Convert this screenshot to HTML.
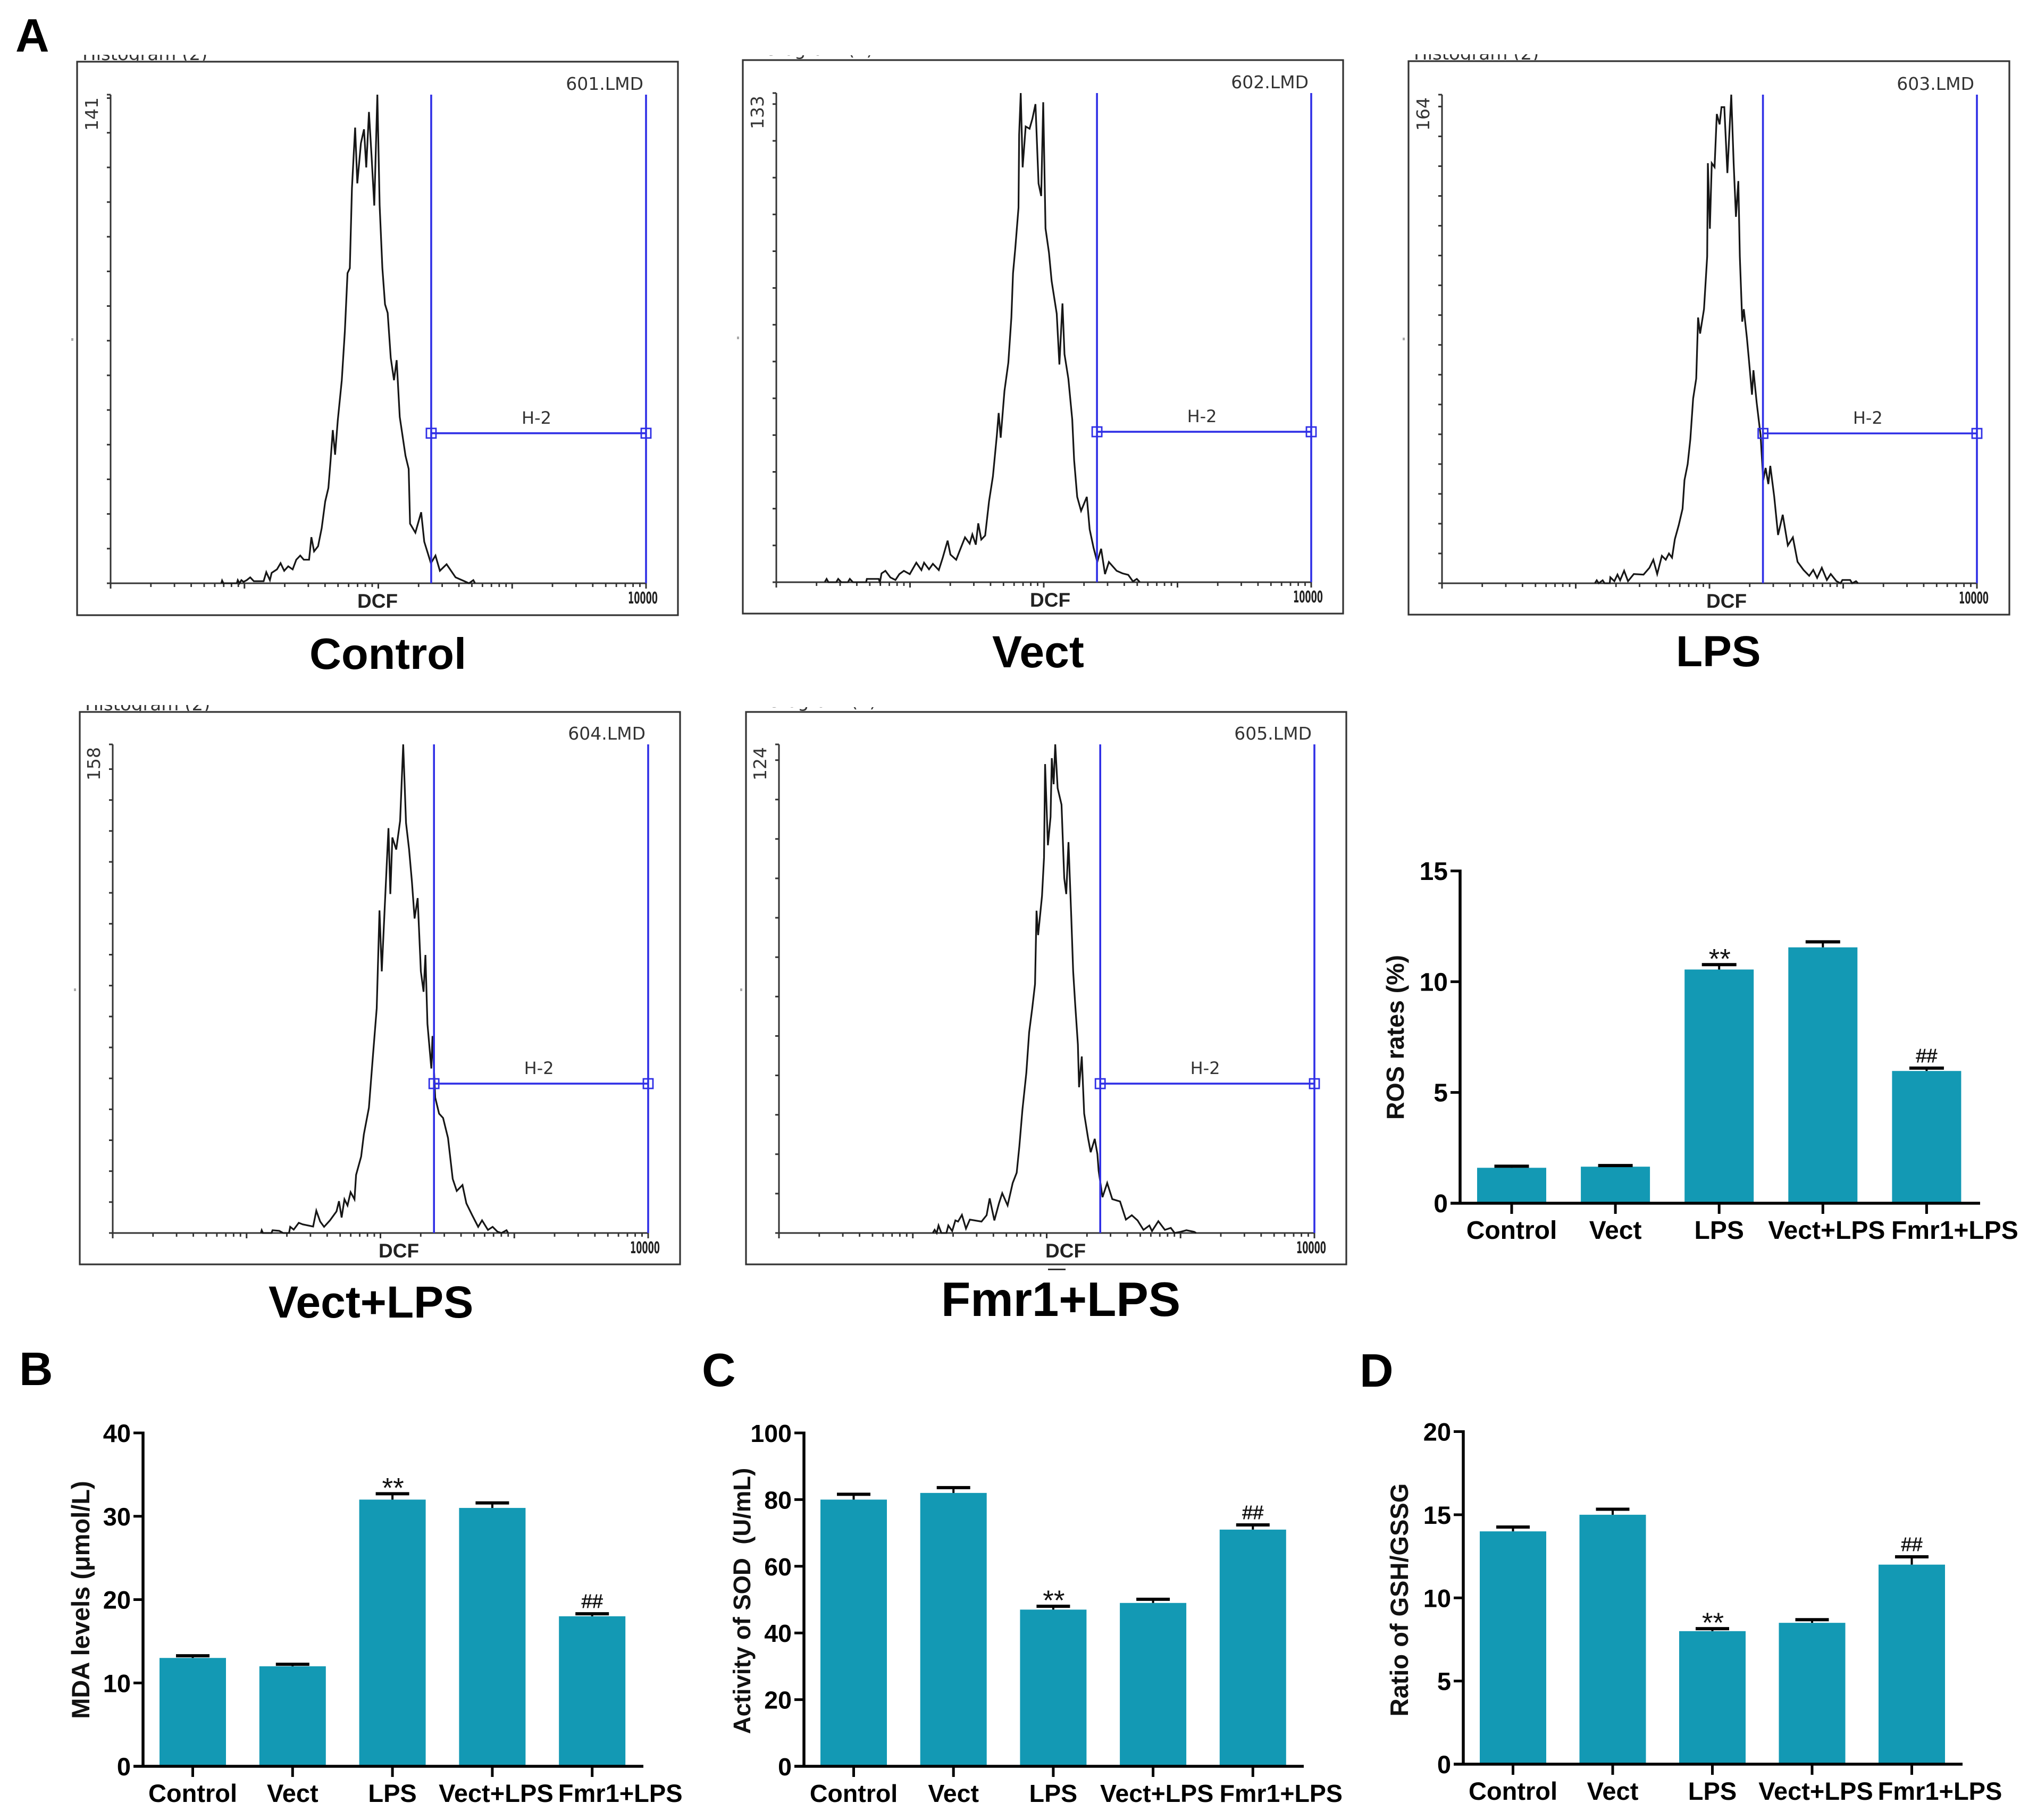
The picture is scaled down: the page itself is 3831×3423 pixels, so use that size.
<!DOCTYPE html>
<html lang="en">
<head>
<meta charset="utf-8">
<title>ROS, MDA, SOD and GSH/GSSG measurements</title>
<style>
html,body{margin:0;padding:0;background:#fff;width:3831px;height:3423px;overflow:hidden}
svg{display:block}
.sans{font-family:"Liberation Sans",Arial,sans-serif}
.letter{font-family:"Liberation Sans",Arial,sans-serif;font-weight:bold;font-size:88px;fill:#000}
.caption{font-family:"Liberation Sans",Arial,sans-serif;font-weight:bold;font-size:82px;fill:#000}
</style>
</head>
<body>
<svg id="figure" xmlns="http://www.w3.org/2000/svg" width="3831" height="3423" viewBox="0 0 3831 3423">
<rect x="0" y="0" width="3831" height="3423" fill="#fff"/>
<text class="letter" x="29" y="97">A</text>
<text class="letter" x="36" y="2605">B</text>
<text class="letter" x="1320" y="2607">C</text>
<text class="letter" x="2557" y="2608">D</text>
<text class="caption" x="582" y="1258" style="font-size:83px">Control</text>
<text class="caption" x="1866" y="1255" style="font-size:84px">Vect</text>
<text class="caption" x="3152" y="1253">LPS</text>
<text class="caption" x="505" y="2478" style="font-size:84px">Vect+LPS</text>
<text class="caption" x="1770" y="2475" style="font-size:90.5px">Fmr1+LPS</text>
<rect x="1971" y="2386" width="33" height="3" fill="#333"/>
</svg>
<script>
/* ---------- bar chart data ---------- */
const categories = ['Control', 'Vect', 'LPS', 'Vect+LPS', 'Fmr1+LPS'];
const significance = ['', '', '**', '', '##'];

const rosMeans = [1.6, 1.65, 10.55, 11.55, 5.97];
const rosErrors = [0.07, 0.05, 0.22, 0.25, 0.13];
const rosTicks = [0, 5, 10, 15];

const mdaMeans = [13, 12, 32, 31, 18];
const mdaErrors = [0.26, 0.24, 0.7, 0.6, 0.3];
const mdaTicks = [0, 10, 20, 30, 40];

const sodMeans = [80, 82, 47, 49, 71];
const sodErrors = [1.6, 1.6, 1, 1.1, 1.4];
const sodTicks = [0, 20, 40, 60, 80, 100];

const gshMeans = [14, 15, 8, 8.5, 12];
const gshErrors = [0.26, 0.33, 0.15, 0.19, 0.47];
const gshTicks = [0, 5, 10, 15, 20];

/* ---------- histogram data: log10 fluorescence and event counts ---------- */
const controlFluor = [.827,.833,.843,.943,.95,.963,.977,.993,1.017,1.043,1.07,1.143,1.163,1.19,1.203,1.243,1.27,1.297,1.327,1.36,1.387,1.417,1.443,1.483,1.5,1.52,1.55,1.577,1.603,1.627,1.643,1.66,1.677,1.697,1.727,1.75,1.77,1.787,1.803,1.827,1.843,1.87,1.893,1.91,1.93,1.95,1.97,1.993,2.01,2.03,2.05,2.07,2.093,2.117,2.137,2.16,2.203,2.227,2.237,2.277,2.32,2.343,2.393,2.427,2.46,2.51,2.577,2.643,2.677,2.71,2.723];
const controlCounts = [0,.8,0,0,.9,0,.9,.4,.9,1.7,.6,.6,3.2,.9,3,4,5.8,3.6,4.9,4,6.8,8,6.8,6.8,13.3,9.2,10.7,15.9,23.6,27.5,35.2,44.2,37.1,46.9,58.6,72.8,89.5,90.9,114,131.5,115.4,127,131,120,136,123,109,141,109,91,80.5,78,65,58.6,64.4,48,36.8,33,17.2,14.6,20.5,12,5.8,8,3.6,5.5,1.7,.6,0,.9,0];

const vectFluor = [.362,.376,.39,.448,.463,.486,.535,.55,.573,.671,.677,.766,.775,.787,.816,.853,.891,.92,.954,.998,1.047,1.085,1.105,1.142,1.171,1.215,1.244,1.281,1.302,1.345,1.374,1.411,1.446,1.466,1.492,1.51,1.533,1.562,1.591,1.62,1.649,1.663,1.678,1.706,1.735,1.758,1.77,1.787,1.811,1.816,1.828,1.842,1.865,1.894,1.915,1.938,1.961,1.981,1.996,2.013,2.039,2.059,2.097,2.117,2.14,2.155,2.184,2.213,2.227,2.25,2.279,2.322,2.343,2.372,2.4,2.429,2.458,2.487,2.545,2.589,2.632,2.667,2.696,2.719];
const vectCounts = [0,.9,0,0,.9,0,0,.9,0,0,.9,.9,0,2.4,3.1,1.3,.6,2.2,3.1,2.2,5.3,3.3,5.3,3.5,5,3.3,6.6,11.3,7.5,6.1,8.8,12.2,10.5,13,10.2,16,11.6,12.7,22,28.8,39.8,46,39.3,52,59.7,72,84,90.7,101.8,121.7,133,112.8,123.9,123.3,126,130,108.4,105,130.5,96.2,89.6,81.9,73,59.2,75.8,62,55.3,44.2,33.2,23.2,19.4,23.2,14.4,9.4,5.5,9.1,2.2,5.5,3.1,2.4,2,.2,.9,0];

const lpsFluor = [1.143,1.157,1.172,1.201,1.216,1.254,1.259,1.289,1.312,1.332,1.362,1.391,1.434,1.507,1.551,1.58,1.609,1.644,1.673,1.697,1.72,1.741,1.77,1.799,1.813,1.837,1.857,1.878,1.901,1.915,1.93,1.959,1.983,1.988,2.003,2.017,2.038,2.055,2.076,2.09,2.111,2.134,2.163,2.181,2.198,2.216,2.227,2.245,2.257,2.28,2.294,2.318,2.329,2.353,2.382,2.402,2.42,2.44,2.455,2.484,2.513,2.548,2.586,2.624,2.659,2.703,2.746,2.776,2.805,2.84,2.878,2.907,2.95,2.98,2.994,3.052,3.067,3.096,3.111];
const lpsCounts = [0,1,0,1,0,0,2,.7,2.9,1,4.2,.7,3.1,2.9,5.2,7.9,3.1,9.2,7.9,10,8.6,14.8,19.5,25,34.6,40,48.3,62,68.7,89.2,83.8,92,109.7,141,119,141,139.7,157.5,154,159.8,159.8,137.7,164,141,123,135,109.7,87.8,92,82.4,75.6,63.3,71.5,60.6,49.7,34.6,38.7,33.3,39.4,29.2,16.2,23,12.7,15.4,7.2,4.5,2.5,4.5,1.8,5.2,1.1,3.1,.7,0,1.1,1.1,0,.7,0];

const vectLpsFluor = [1.107,1.113,1.122,1.186,1.194,1.244,1.273,1.317,1.326,1.352,1.39,1.419,1.497,1.521,1.55,1.579,1.623,1.672,1.69,1.71,1.731,1.754,1.777,1.806,1.818,1.856,1.876,1.914,1.943,1.972,1.993,2.01,2.031,2.051,2.06,2.074,2.089,2.118,2.147,2.17,2.191,2.214,2.235,2.255,2.278,2.302,2.322,2.336,2.351,2.38,2.389,2.409,2.438,2.468,2.505,2.54,2.57,2.613,2.642,2.686,2.73,2.759,2.803,2.838,2.875,2.904,2.942,2.954];
const vectLpsCounts = [0,.9,0,0,.9,.7,0,0,2,1.1,3.3,2.8,2.1,7.2,3.7,2,4.1,7,10.3,5,10.9,8.9,13.2,10.9,18.8,24.7,31.9,40.5,56.9,72.7,104.3,84.6,104.3,122.7,130.9,109.6,127.9,124,133.3,158,132.6,124,113.6,101.7,108.3,84.6,78,89.9,67.6,53.2,63.7,43.8,38.6,37.2,30.7,17.5,13.6,15.5,9.6,5.7,2,4.1,1,2,.4,0,.9,0];

const fmr1LpsFluor = [1.149,1.163,1.178,1.192,1.213,1.251,1.265,1.294,1.318,1.338,1.367,1.397,1.426,1.513,1.551,1.574,1.609,1.644,1.668,1.708,1.746,1.776,1.796,1.819,1.848,1.869,1.892,1.913,1.924,1.936,1.965,1.98,1.988,2.009,2.029,2.038,2.052,2.064,2.082,2.111,2.131,2.146,2.163,2.184,2.198,2.213,2.233,2.242,2.262,2.28,2.309,2.329,2.359,2.379,2.388,2.417,2.452,2.49,2.548,2.592,2.636,2.679,2.723,2.767,2.787,2.834,2.883,2.927,2.956,3,3.044,3.102,3.117];
const fmr1LpsCounts = [0,.8,0,1.9,0,0,1.9,.5,3.2,2.9,4.6,1.1,3.4,2.9,4.5,8.8,3.2,7.6,10.1,7,12.7,15.3,22,31.3,40.6,50.9,57,63.2,81.8,75.6,85.5,95.3,119,98.4,105.6,120.5,113.9,124,112.9,108.7,90.1,86,99.2,80,66.4,58.1,47.8,37,44.8,30.3,24.1,20.5,23.9,20,15.8,9.1,12.7,8.6,8,3.4,4.5,3.2,.8,1.9,.5,3,.8,1.3,0,.3,.7,.3,0];

const fullScaleCounts = [141, 133, 164, 158, 124];
const gateLowFluor = [2.395, 2.398, 2.40, 2.40, 2.40];
const gateMarkerCounts = [43.3, 40.9, 50.3, 48.3, 37.9];
const fileNames = ['601.LMD', '602.LMD', '603.LMD', '604.LMD', '605.LMD'];
const logDecades = [0, 1, 2, 3, 4];
const minorMultipliers = [2, 3, 4, 5, 6, 7, 8, 9];

/* ---------- helpers ---------- */
const NS = 'http://www.w3.org/2000/svg';
const svg = document.getElementById('figure');
const BAR_COLOR = '#1399b4';
const FONT = '"Liberation Sans",Arial,sans-serif';
const MONO = '"DejaVu Sans",Verdana,sans-serif';
const BLUE = '#2f2fe6';

function mk(parent, tag, attrs, text) {
  const el = document.createElementNS(NS, tag);
  for (const k in attrs) el.setAttribute(k, attrs[k]);
  if (text !== undefined) el.textContent = text;
  parent.appendChild(el);
  return el;
}

/* ---------- histograms ---------- */
function drawHistogram(p, idx, fluor, counts) {
  const full = fullScaleCounts[idx];
  const xs = d => p.axisX + d * (p.gateHighX - p.axisX) / 4;
  const ys = c => p.baseY - c * (p.baseY - p.topY) / full;

  const g = mk(svg, 'g', {});
  
  

  const frame = mk(g, 'rect', {x: p.left, y: p.top, width: p.right - p.left, height: p.bottom - p.top, fill: '#fff', stroke: '#333', 'stroke-width': 3.2});
  
  

  const mark = mk(g, 'rect', {x: p.left - 11, y: p.top + 520, width: 4, height: 5, fill: '#aaa'});
  
  

  const clip = mk(g, 'clipPath', {id: 'clip-' + p.slug});
  
  
  mk(clip, 'rect', {x: p.left, y: p.top - p.titleClip, width: 400, height: p.titleClip - 2});

  const title = mk(g, 'text', {x: p.left + 10, y: p.top - p.titleDrop, 'font-family': MONO, 'font-size': 34, fill: '#333', 'clip-path': 'url(#clip-' + p.slug + ')'}, 'Histogram (2)');
  
  

  const yAxis = mk(g, 'line', {x1: p.axisX, x2: p.axisX, y1: p.topY, y2: p.baseY, stroke: '#333', 'stroke-width': 3});
  
  

  const xAxis = mk(g, 'line', {x1: p.axisX, x2: p.gateHighX, y1: p.baseY, y2: p.baseY, stroke: '#333', 'stroke-width': 3});
  
  

  for (let c = 0; c <= full; c += 10) {
    const t = mk(g, 'line', {x1: p.axisX - 7, x2: p.axisX, y1: ys(c), y2: ys(c), stroke: '#333', 'stroke-width': 3});
    
    
  }
  const topTick = mk(g, 'line', {x1: p.axisX - 7, x2: p.axisX, y1: ys(full), y2: ys(full), stroke: '#333', 'stroke-width': 3});
  
  

  logDecades.forEach(d => {
    const major = mk(g, 'line', {x1: xs(d), x2: xs(d), y1: p.baseY, y2: p.baseY + 10, stroke: '#333', 'stroke-width': 3});
    
    
    if (d === 4) return;
    minorMultipliers.forEach(m => {
      const minor = mk(g, 'line', {x1: xs(d + Math.log10(m)), x2: xs(d + Math.log10(m)), y1: p.baseY, y2: p.baseY + 7, stroke: '#333', 'stroke-width': 2.8});
      
      
    });
  });

  const pts = fluor.map((d, i) => xs(d).toFixed(1) + ',' + ys(counts[i]).toFixed(1)).join(' ');
  const curve = mk(g, 'polyline', {points: pts, fill: 'none', stroke: '#161616', 'stroke-width': 3.2, 'stroke-linejoin': 'miter'});
  
  

  const gl = xs(gateLowFluor[idx]);
  const gy = ys(gateMarkerCounts[idx]);
  const gateL = mk(g, 'line', {x1: gl, x2: gl, y1: p.topY, y2: p.baseY, stroke: BLUE, 'stroke-width': 3.6});
  
  

  const gateR = mk(g, 'line', {x1: p.gateHighX, x2: p.gateHighX, y1: p.topY, y2: p.baseY, stroke: BLUE, 'stroke-width': 3.6});
  
  

  const gateH = mk(g, 'line', {x1: gl, x2: p.gateHighX, y1: gy, y2: gy, stroke: BLUE, 'stroke-width': 3.6});
  
  

  const h1 = mk(g, 'rect', {x: gl - 9, y: gy - 9, width: 18, height: 18, fill: 'none', stroke: BLUE, 'stroke-width': 2.8});
  
  

  const h2 = mk(g, 'rect', {x: p.gateHighX - 9, y: gy - 9, width: 18, height: 18, fill: 'none', stroke: BLUE, 'stroke-width': 2.8});
  
  

  const hLabel = mk(g, 'text', {x: (gl + p.gateHighX) / 2 - 4, y: gy - 18, 'text-anchor': 'middle', 'font-family': MONO, 'font-size': 32, fill: '#333'}, 'H-2');
  
  

  const file = mk(g, 'text', {x: p.gateHighX - 5, y: p.topY - 9, 'text-anchor': 'end', 'font-family': MONO, 'font-size': 33, fill: '#333'}, fileNames[idx]);
  
  

  const lx = p.axisX - 24, ly = p.topY + 68;
  const maxLabel = mk(g, 'text', {x: lx, y: ly, transform: 'rotate(-90 ' + lx + ' ' + ly + ')', 'font-family': MONO, 'font-size': 33, fill: '#333'}, String(full));
  
  

  const dcf = mk(g, 'text', {x: p.dcfX, y: p.baseY + 46, 'font-family': FONT, 'font-weight': 'bold', 'font-size': 37, fill: '#222'}, 'DCF');
  
  

  const tenK = mk(g, 'text', {x: p.gateHighX - 34, y: p.baseY + 38, 'font-family': MONO, 'font-weight': 'bold', 'font-size': 30, fill: '#222', textLength: 56, lengthAdjust: 'spacingAndGlyphs'}, '10000');
  
  
}

drawHistogram({slug: 'control', left: 145, right: 1275, top: 116, bottom: 1157, axisX: 208, gateHighX: 1215, baseY: 1097, topY: 178, dcfX: 672, titleClip: 13, titleDrop: 3}, 0, controlFluor, controlCounts);
drawHistogram({slug: 'vect', left: 1397, right: 2526, top: 113, bottom: 1154, axisX: 1460, gateHighX: 2466, baseY: 1095, topY: 175, dcfX: 1937, titleClip: 9, titleDrop: 9}, 1, vectFluor, vectCounts);
drawHistogram({slug: 'lps', left: 2649, right: 3779, top: 115, bottom: 1156, axisX: 2712, gateHighX: 3718, baseY: 1097, topY: 178, dcfX: 3209, titleClip: 13, titleDrop: 3}, 2, lpsFluor, lpsCounts);
drawHistogram({slug: 'vect-lps', left: 150, right: 1279, top: 1339, bottom: 2378, axisX: 212, gateHighX: 1219, baseY: 2319, topY: 1400, dcfX: 712, titleClip: 13, titleDrop: 3}, 3, vectLpsFluor, vectLpsCounts);
drawHistogram({slug: 'fmr1-lps', left: 1403, right: 2532, top: 1339, bottom: 2378, axisX: 1465, gateHighX: 2472, baseY: 2319, topY: 1400, dcfX: 1966, titleClip: 9, titleDrop: 9}, 4, fmr1LpsFluor, fmr1LpsCounts);

/* ---------- bar charts ---------- */
function labelNudge(i) {
  if (i === 3) return 7;
  if (i === 4) return 53;
  return 0;
}

function drawBars(c, means, errors, ticks, title) {
  const yMax = ticks[ticks.length - 1];
  const ys = v => c.zeroY - v * (c.zeroY - c.topY) / yMax;
  const xs = i => c.firstX + i * c.pitch;

  const g = mk(svg, 'g', {});
  
  

  means.forEach((m, i) => {
    const bar = mk(g, 'rect', {x: xs(i) - c.barW / 2, y: ys(m), width: c.barW, height: c.zeroY - ys(m), fill: BAR_COLOR});
    
    

    const stem = mk(g, 'line', {x1: xs(i), x2: xs(i), y1: ys(m), y2: ys(m + errors[i]), stroke: '#000', 'stroke-width': 4});
    
    

    const cap = mk(g, 'line', {x1: xs(i) - c.capW / 2, x2: xs(i) + c.capW / 2, y1: ys(m + errors[i]), y2: ys(m + errors[i]), stroke: '#000', 'stroke-width': 6});
    
    

    if (significance[i] === '**') {
      const star = mk(g, 'text', {x: xs(i) + 1, y: ys(m + errors[i]) + 7, 'text-anchor': 'middle', 'font-family': FONT, 'font-size': 53, fill: '#111'}, '**');
      
      
    }
    if (significance[i] === '##') {
      const hash = mk(g, 'text', {x: xs(i), y: ys(m + errors[i]) - 11, 'text-anchor': 'middle', 'font-family': FONT, 'font-size': 36, fill: '#111', stroke: '#111', 'stroke-width': 0.7}, '##');
      
      
    }

    const xTick = mk(g, 'line', {x1: xs(i), x2: xs(i), y1: c.zeroY, y2: c.zeroY + 20, stroke: '#000', 'stroke-width': 5});
    
    

    const lab = mk(g, 'text', {x: xs(i) + labelNudge(i), y: c.zeroY + 67, 'text-anchor': 'middle', 'font-family': FONT, 'font-weight': 'bold', 'font-size': c.font, fill: '#000'}, categories[i]);
    
    
  });

  const yAxis = mk(g, 'line', {x1: c.axisX, x2: c.axisX, y1: c.topY - 2.5, y2: c.zeroY + 2.5, stroke: '#000', 'stroke-width': 5.5});
  
  

  const xAxis = mk(g, 'line', {x1: c.axisX - 18, x2: c.axisEnd, y1: c.zeroY, y2: c.zeroY, stroke: '#000', 'stroke-width': 5.5});
  
  

  ticks.forEach(t => {
    const yTick = mk(g, 'line', {x1: c.axisX - 18, x2: c.axisX, y1: ys(t), y2: ys(t), stroke: '#000', 'stroke-width': 5});
    
    

    const yLab = mk(g, 'text', {x: c.axisX - 23, y: ys(t) + 17, 'text-anchor': 'end', 'font-family': FONT, 'font-weight': 'bold', 'font-size': c.font, fill: '#000'}, String(t));
    
    
  });

  const yt = mk(g, 'text', {x: c.titleX, y: c.titleY, transform: 'rotate(-90 ' + c.titleX + ' ' + c.titleY + ')', 'text-anchor': 'middle', 'font-family': FONT, 'font-weight': 'bold', 'font-size': c.titleFont, fill: '#111', style: 'white-space:pre'}, title);
  
  
}

drawBars({slug: 'ros', firstX: 2843, pitch: 195.1, barW: 130, capW: 65, zeroY: 2263, topY: 1638, axisX: 2746, axisEnd: 3724, font: 48, titleFont: 46.5, titleX: 2640, titleY: 1951}, rosMeans, rosErrors, rosTicks, 'ROS rates (%)');
drawBars({slug: 'mda', firstX: 362.5, pitch: 187.8, barW: 125, capW: 63, zeroY: 3322, topY: 2695, axisX: 269, axisEnd: 1210, font: 47, titleFont: 47, titleX: 168, titleY: 3009}, mdaMeans, mdaErrors, mdaTicks, 'MDA levels (\u03bcmol/L)');
drawBars({slug: 'sod', firstX: 1605.5, pitch: 187.7, barW: 125, capW: 63, zeroY: 3322, topY: 2695, axisX: 1512, axisEnd: 2452, font: 46.5, titleFont: 45.5, titleX: 1411, titleY: 3011}, sodMeans, sodErrors, sodTicks, 'Activity of SOD  (U/mL)');
drawBars({slug: 'gsh', firstX: 2845.5, pitch: 187.5, barW: 125, capW: 63, zeroY: 3318, topY: 2692.5, axisX: 2752, axisEnd: 3691, font: 47, titleFont: 47, titleX: 2648, titleY: 3009}, gshMeans, gshErrors, gshTicks, 'Ratio of GSH/GSSG');
</script>
</body>
</html>
